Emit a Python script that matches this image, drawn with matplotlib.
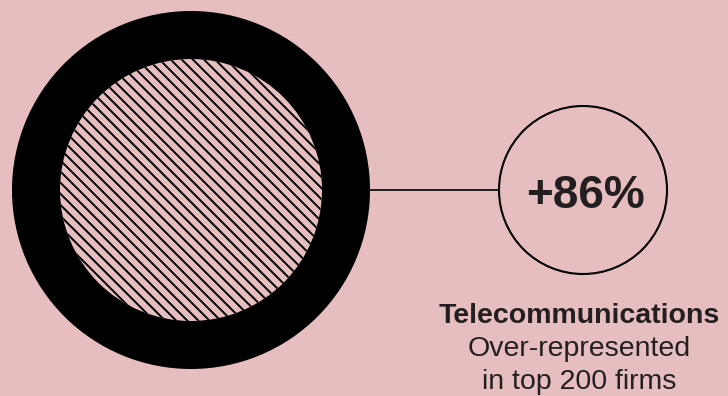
"""Ring + callout chart: sector over-representation in top 200 firms."""
import matplotlib
matplotlib.use("Agg")
import matplotlib.pyplot as plt  # noqa: E402
from matplotlib.patches import Circle  # noqa: E402

# data
change_pct = 86
sector = "Telecommunications"
note_lines = ["Over-represented", "in top 200 firms"]

BG = "#e7bebf"
INK = "#231f20"

plt.rcParams["font.family"] = ["Liberation Sans", "DejaVu Sans"]
plt.rcParams["hatch.linewidth"] = 1.4

fig = plt.figure(figsize=(7.28, 3.96), dpi=100, facecolor=BG)
ax = fig.add_axes([0, 0, 1, 1])
ax.set_xlim(0, 728)
ax.set_ylim(396, 0)
ax.set_aspect("equal")
ax.axis("off")

# big ring with hatched core
ring_c, ring_r, core_r = (191, 190), 179, 131
ax.add_patch(Circle(ring_c, ring_r, facecolor="black", edgecolor="none", zorder=1))
ax.add_patch(Circle(ring_c, core_r, facecolor=BG, edgecolor="black", lw=0,
                    hatch="\\\\\\", zorder=2))

# connector + small bubble
bub_c, bub_r = (583, 190), 84
ax.plot([ring_c[0] + ring_r, bub_c[0] - bub_r], [190, 190], color="black", lw=1.2, zorder=3)
ax.add_patch(Circle(bub_c, bub_r, facecolor="none", edgecolor="black", lw=1.5, zorder=3))
ax.text(586, 208, f"+{change_pct}%", ha="center", va="baseline", fontsize=33,
        fontweight="bold", color=INK)

# labels
ax.text(579, 323, sector, ha="center", va="baseline", fontsize=20.5,
        fontweight="bold", color=INK)
for i, line in enumerate(note_lines):
    ax.text(579, 356 + 33 * i, line, ha="center", va="baseline", fontsize=20.5, color=INK)

fig.savefig("out.png", facecolor=BG)
plt.close(fig)
